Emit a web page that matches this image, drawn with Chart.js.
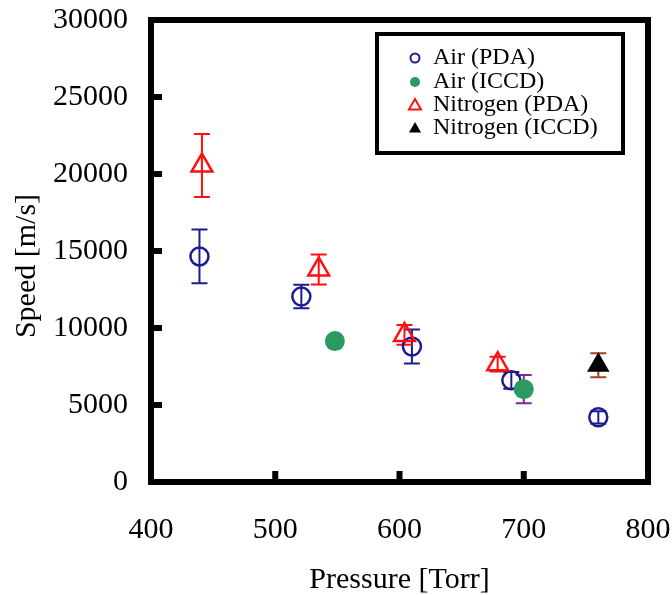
<!DOCTYPE html>
<html>
<head>
<meta charset="utf-8">
<script src="https://cdn.jsdelivr.net/npm/chart.js@4.4.0/dist/chart.umd.min.js"></script>
<style>
  html, body { margin: 0; padding: 0; background: #fff; }
  #wrap { width: 672px; height: 595px; }
</style>
</head>
<body>
<div id="wrap"><canvas id="speedChart"></canvas></div>
<script>
// Air, PDA measurements: pressure [Torr], speed [m/s], error [m/s]
const airPdaPressure = [439, 521, 610, 690, 760];
const airPdaSpeed = [14650, 12050, 8800, 6600, 4200];
const airPdaErr = [1740, 760, 1110, 540, 400];

// Air, ICCD
const airIccdPressure = [548, 700];
const airIccdSpeed = [9150, 6030];
const airIccdErr = [0, 920];

// Nitrogen, PDA
const n2PdaPressure = [441, 535, 604, 679];
const n2PdaSpeed = [20550, 13800, 9550, 7650];
const n2PdaErr = [2050, 975, 640, 480];

// Nitrogen, ICCD
const n2IccdPressure = [760];
const n2IccdSpeed = [7580];
const n2IccdErr = [780];

const xTicks = [400, 500, 600, 700, 800];
const yTicks = [0, 5000, 10000, 15000, 20000, 25000, 30000];

const serif = '"Liberation Serif", "Times New Roman", serif';

function toPoints(xs, ys) {
  return xs.map(function(x, i) { return { x: x, y: ys[i] }; });
}

// small marker drawer, used for the legend
function drawMarker(ctx, style, x, y, r, fill, stroke, lw) {
  ctx.beginPath();
  if (style == 'triangle') {
    ctx.moveTo(x, y - r);
    ctx.lineTo(x + r * 0.866, y + r * 0.5);
    ctx.lineTo(x - r * 0.866, y + r * 0.5);
    ctx.closePath();
  } else {
    ctx.arc(x, y, r, 0, Math.PI * 2);
  }
  if (fill) { ctx.fillStyle = fill; ctx.fill(); }
  if (stroke) { ctx.strokeStyle = stroke; ctx.lineWidth = lw; ctx.stroke(); }
}

const errorBars = {
  id: 'errorBars',
  beforeDatasetsDraw(chart) {
    const ctx = chart.ctx;
    const yScale = chart.scales.y;
    ctx.save();
    chart.data.datasets.forEach(function(ds, di) {
      const meta = chart.getDatasetMeta(di);
      ctx.strokeStyle = ds.errorColor;
      ctx.lineWidth = 2;
      meta.data.forEach(function(pt, i) {
        const e = ds.errors[i];
        if (!e) return;
        const v = ds.data[i].y;
        const top = yScale.getPixelForValue(v + e);
        const bot = yScale.getPixelForValue(v - e);
        ctx.beginPath();
        ctx.moveTo(pt.x, top); ctx.lineTo(pt.x, bot);
        ctx.moveTo(pt.x - 8, top); ctx.lineTo(pt.x + 8, top);
        ctx.moveTo(pt.x - 8, bot); ctx.lineTo(pt.x + 8, bot);
        ctx.stroke();
      });
    });
    ctx.restore();
  }
};

const frameAndLegend = {
  id: 'frameAndLegend',
  afterDraw(chart) {
    const ctx = chart.ctx;
    const a = chart.chartArea;
    const xs = chart.scales.x, ys = chart.scales.y;
    ctx.save();
    // thick box frame
    ctx.strokeStyle = '#000';
    ctx.lineWidth = 6;
    ctx.strokeRect(a.left, a.top, a.right - a.left, a.bottom - a.top);
    // inward tick marks
    ctx.fillStyle = '#000';
    xs.ticks.forEach(function(t) {
      const px = xs.getPixelForValue(t.value);
      ctx.fillRect(px - 3, a.bottom - 11, 6, 11);
    });
    ys.ticks.forEach(function(t) {
      const py = ys.getPixelForValue(t.value);
      ctx.fillRect(a.left, py - 3, 11, 6);
    });

    // legend box
    ctx.lineWidth = 4;
    ctx.strokeRect(377, 34, 246, 119);
    ctx.font = '24px ' + serif;
    ctx.textBaseline = 'middle';
    ctx.textAlign = 'left';
    const rows = [58, 82, 105, 128];
    chart.data.datasets.forEach(function(ds, i) {
      const y = rows[i];
      const filled = ds.backgroundColor != 'transparent';
      if (ds.pointStyle == 'triangle') {
        drawMarker(ctx, 'triangle', 415, y + 1, 7, filled ? ds.backgroundColor : null, filled ? null : ds.borderColor, 2);
      } else {
        drawMarker(ctx, 'circle', 415, y, filled ? 5 : 4.5, filled ? ds.backgroundColor : null, filled ? null : ds.borderColor, 2);
      }
      ctx.fillStyle = '#000';
      ctx.fillText(ds.label, 433, y);
    });
    ctx.restore();
  }
};

Chart.defaults.font.family = serif;
Chart.defaults.color = '#000';

new Chart(document.getElementById('speedChart'), {
  type: 'scatter',
  data: {
    datasets: [
      {
        label: 'Air (PDA)',
        data: toPoints(airPdaPressure, airPdaSpeed),
        errors: airPdaErr,
        errorColor: '#1c1c92',
        pointStyle: 'circle',
        pointRadius: 9,
        borderWidth: 2.5,
        borderColor: '#1c1c92',
        backgroundColor: 'transparent',
        order: 3
      },
      {
        label: 'Air (ICCD)',
        data: toPoints(airIccdPressure, airIccdSpeed),
        errors: airIccdErr,
        errorColor: '#7b2a9c',
        pointStyle: 'circle',
        pointRadius: 10,
        borderWidth: 0,
        borderColor: '#2a9a60',
        backgroundColor: '#2a9a60',
        order: 0
      },
      {
        label: 'Nitrogen (PDA)',
        data: toPoints(n2PdaPressure, n2PdaSpeed),
        errors: n2PdaErr,
        errorColor: '#ff1010',
        pointStyle: 'triangle',
        pointRadius: 12,
        borderWidth: 2.5,
        borderColor: '#ff1010',
        backgroundColor: 'transparent',
        order: 2
      },
      {
        label: 'Nitrogen (ICCD)',
        data: toPoints(n2IccdPressure, n2IccdSpeed),
        errors: n2IccdErr,
        errorColor: '#a3401c',
        pointStyle: 'triangle',
        pointRadius: 13,
        borderWidth: 0,
        borderColor: '#000',
        backgroundColor: '#000',
        order: 1
      }
    ]
  },
  options: {
    responsive: true,
    maintainAspectRatio: false,
    animation: false,
    layout: { padding: { left: 0, right: 24, top: 20, bottom: 0 } },
    plugins: {
      legend: { display: false },
      tooltip: { enabled: false }
    },
    scales: {
      x: {
        type: 'linear',
        min: xTicks[0],
        max: xTicks[xTicks.length - 1],
        grid: { display: false, drawTicks: false },
        border: { display: false },
        ticks: {
          stepSize: xTicks[1] - xTicks[0],
          padding: 30,
          font: { size: 30 },
          callback: function(v) { return String(v); }
        },
        title: {
          display: true,
          text: 'Pressure [Torr]',
          font: { size: 30, lineHeight: 1 },
          padding: { top: 0, bottom: 0 }
        },
        afterFit: function(s) {
          s.height = 113;
          s.paddingLeft = 0;
          s.paddingRight = 0;
        }
      },
      y: {
        type: 'linear',
        min: yTicks[0],
        max: yTicks[yTicks.length - 1],
        grid: { display: false, drawTicks: false },
        border: { display: false },
        ticks: {
          stepSize: yTicks[1] - yTicks[0],
          padding: 23,
          font: { size: 30 },
          callback: function(v) { return String(v); }
        },
        title: {
          display: true,
          text: 'Speed [m/s]    ',
          font: { size: 30, lineHeight: 1 },
          padding: { top: 12, bottom: 0 }
        },
        afterFit: function(s) {
          s.width = 151;
          s.paddingTop = 0;
          s.paddingBottom = 0;
        }
      }
    }
  },
  plugins: [errorBars, frameAndLegend]
});
</script>
</body>
</html>
